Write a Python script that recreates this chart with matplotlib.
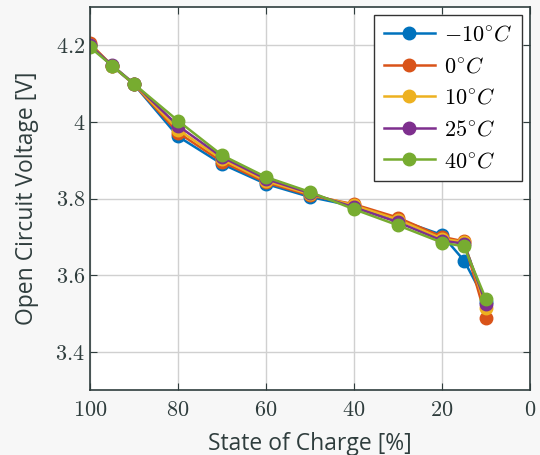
import matplotlib.pyplot as plt
from matplotlib.ticker import FuncFormatter

plt.rcParams['mathtext.fontset'] = 'cm'

soc = [100, 95, 90, 80, 70, 60, 50, 40, 30, 20, 15, 10]
ocv_m10 = [4.200, 4.146, 4.098, 3.962, 3.890, 3.838, 3.804, 3.780, 3.745, 3.705, 3.638, 3.530]
ocv_0 = [4.205, 4.147, 4.098, 3.972, 3.896, 3.842, 3.808, 3.785, 3.750, 3.700, 3.688, 3.489]
ocv_10 = [4.202, 4.147, 4.099, 3.980, 3.902, 3.846, 3.811, 3.782, 3.745, 3.695, 3.686, 3.514]
ocv_25 = [4.200, 4.148, 4.100, 3.990, 3.908, 3.851, 3.814, 3.777, 3.738, 3.690, 3.682, 3.525]
ocv_40 = [4.195, 4.147, 4.099, 4.003, 3.913, 3.856, 3.817, 3.772, 3.730, 3.685, 3.675, 3.537]

series = [ocv_m10, ocv_0, ocv_10, ocv_25, ocv_40]
labels = [r'$-10^{\circ}C$', r'$0^{\circ}C$', r'$10^{\circ}C$', r'$25^{\circ}C$', r'$40^{\circ}C$']
colors = ['#0072BD', '#D95319', '#EDB120', '#7E2F8E', '#77AC30']

fig = plt.figure(figsize=(5.4, 4.55), dpi=100, facecolor='#f7f7f7')
ax = fig.add_axes([90 / 540, 1 - 390 / 455, 440 / 540, 383 / 455])

for y, lab, c in zip(series, labels, colors):
    ax.plot(soc, y, '-o', color=c, label=lab, lw=1.8, markersize=9)

ax.set_xlim(100, 0)
ax.set_ylim(3.3, 4.3)
ax.set_xticks([100, 80, 60, 40, 20, 0])
ax.set_yticks([3.4, 3.6, 3.8, 4.0, 4.2])
fmt = FuncFormatter(lambda v, p: r'$%g$' % round(v, 2))
ax.xaxis.set_major_formatter(fmt)
ax.yaxis.set_major_formatter(fmt)
ax.tick_params(direction='in', top=True, right=True, labelsize=16,
               colors='#2f3d3d', length=5)
ax.tick_params(axis='x', pad=7)
ax.grid(True, color='#d0d0d0', lw=1)
ax.set_axisbelow(True)
for s in ax.spines.values():
    s.set_color('#2f3d3d')
    s.set_linewidth(1.2)

ax.set_xlabel('State of Charge [%]', fontsize=16.5, family='Open Sans',
              color='#2f3d3d', labelpad=9)
ax.set_ylabel('Open Circuit Voltage [V]', fontsize=16.5, family='Open Sans',
              color='#2f3d3d', labelpad=12)

leg = ax.legend(loc='upper right', fontsize=16, fancybox=False, framealpha=1,
                edgecolor='#333333', borderaxespad=0.35, handlelength=2.3,
                labelspacing=0.52, borderpad=0.45, handletextpad=0.4)
leg.get_frame().set_linewidth(1.0)

fig.savefig('out.png', facecolor=fig.get_facecolor())
